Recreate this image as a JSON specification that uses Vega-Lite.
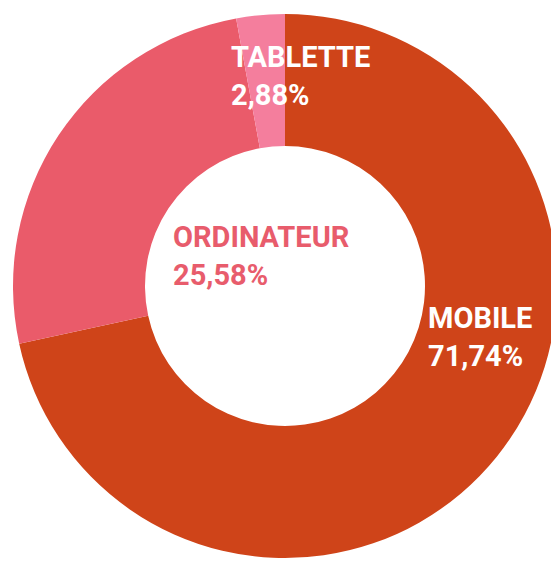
{
  "$schema": "https://vega.github.io/schema/vega-lite/v6.json",
  "width": 532,
  "height": 558,
  "padding": {"left": 19, "top": 7, "right": 0, "bottom": 0},
  "autosize": {"type": "none"},
  "background": "white",
  "view": {"stroke": null},
  "data": {
    "values": [
      {"device": "MOBILE", "share": 71.74, "rank": 1},
      {"device": "ORDINATEUR", "share": 25.58, "rank": 2},
      {"device": "TABLETTE", "share": 2.88, "rank": 3}
    ]
  },
  "transform": [
    {"calculate": "datum.device + '\\n' + replace(format(datum.share, '.2f'), '.', ',') + '%'", "as": "label"}
  ],
  "encoding": {
    "theta": {"field": "share", "type": "quantitative", "stack": true},
    "order": {"field": "rank", "type": "quantitative"}
  },
  "layer": [
    {
      "mark": {"type": "arc", "radius": 272, "radius2": 140},
      "encoding": {
        "color": {
          "field": "device",
          "type": "nominal",
          "scale": {"domain": ["MOBILE", "ORDINATEUR", "TABLETTE"], "range": ["#CF4419", "#EA5B6A", "#F47E9D"]},
          "legend": null
        }
      }
    },
    {
      "transform": [{"filter": "datum.device === 'TABLETTE'"}],
      "mark": {"type": "text", "radius": 0, "align": "left", "baseline": "alphabetic", "dx": -54, "dy": -219, "font": "Roboto", "fontWeight": "bold", "fontSize": 29, "lineHeight": 38, "lineBreak": "\n", "color": "white"},
      "encoding": {"text": {"field": "label"}}
    },
    {
      "transform": [{"filter": "datum.device === 'ORDINATEUR'"}],
      "mark": {"type": "text", "radius": 0, "align": "left", "baseline": "alphabetic", "dx": -112, "dy": -39, "font": "Roboto", "fontWeight": "bold", "fontSize": 29, "lineHeight": 38, "lineBreak": "\n", "color": "#E85C6C"},
      "encoding": {"text": {"field": "label"}}
    },
    {
      "transform": [{"filter": "datum.device === 'MOBILE'"}],
      "mark": {"type": "text", "radius": 0, "align": "left", "baseline": "alphabetic", "dx": 143, "dy": 42, "font": "Roboto", "fontWeight": "bold", "fontSize": 29, "lineHeight": 38, "lineBreak": "\n", "color": "white"},
      "encoding": {"text": {"field": "label"}}
    }
  ]
}
